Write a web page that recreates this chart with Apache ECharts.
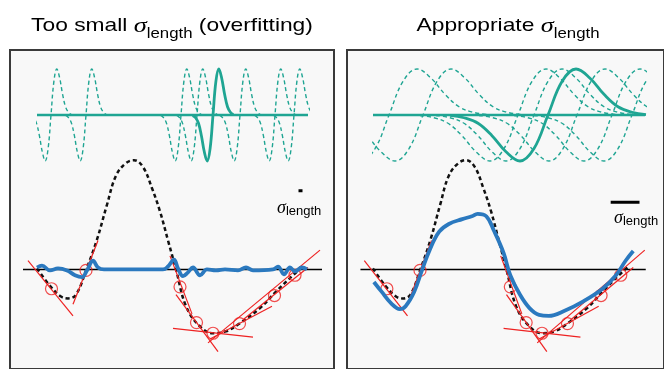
<!DOCTYPE html>
<html><head><meta charset="utf-8">
<script src="https://cdn.jsdelivr.net/npm/echarts/dist/echarts.min.js"></script>
<style>html,body{margin:0;padding:0;background:#fff}#c{width:664px;height:369px}</style>
</head><body><div id="c"></div>
<script>
// ---------------- data ----------------
// true function (black dotted), x along the panel, y relative to the black zero line
const truth = [[27,1],[40,-17],[51,-28],[58,-30],[66,-26],[76,-1],[87,31],[97,67],[106,97],[116,110],[124,113],[133,106],[142,84],[150,60],[158,30],[166,0],[176,-38],[189,-58],[203,-66],[216,-64],[228,-57],[250,-40],[266,-23],[283,-6],[293,3]];
// observed samples (red circles)
const samples = [[41.5,-20],[76,-1],[170,-18],[186.5,-55],[203,-66],[229.5,-56],[264.5,-27],[285,-6]];
// tangent segments at the samples [x1,y1,x2,y2]
const tangents = [[18,9,63,-48],[63,-36,88,30],[160,14,182,-46],[166,-26,208,-85],[163,-61,243,-70],[200,-72,262,-38],[233,-52,298,2],[198,-76,310,20]];
// fitted curve, too small length scale
const fitSmall = [[27,2],[32,4],[40,-1],[48,1],[57,-1],[65,-6],[72,-8],[77,-1],[83,9],[88,2],[94,0],[153,0],[158,3],[164,10],[168,1],[173,-7],[178,-3],[183,2],[190,-6],[197,0],[206,-1],[215,0],[228,-1],[236,2],[243,-1],[263,0],[268,3],[274,-5],[280,2],[285,-2],[292,2],[297,0]];
// fitted curve, appropriate length scale
const fitGood = [[28,-13],[36,-23],[46,-35],[55,-41],[61,-38],[70,-23],[78,-1],[86,20],[96,39],[106,47],[120,52],[130,55],[136,57.5],[145,55],[153,40],[163,17],[170,-6],[180,-26],[190,-40],[200,-47],[210,-48],[226,-43],[246,-33],[266,-20],[280,-6],[290,9],[298,19]];
// basis wavelet shape (derivative-of-Gaussian look): offsets in widths, heights in amplitudes
const waveU = [-3.5,-3,-2.5,-2,-1.5,-1,-0.5,0,0.5,1,1.5,2,2.5,3,3.5];
const waveV = [-0.01,-0.06,-0.18,-0.45,-0.8,-1,-0.73,0,0.73,1,0.8,0.45,0.18,0.06,0.01];
const waveAmp = 46;
const centersSmall = [41,76,171,187,203,230,265,284];
const widthSmall = 5.8;
const centersGood = [42,76,171,187,201,230,265,285];
const widthGood = 28;
const solidIndex = 4;
// sigma scale bars [x1,x2,y]
const barSmall = [288.5,292.5,81.5];
const barGood = [274.5,304.5,69.5];

// ---------------- colours ----------------
const TEAL = '#1fa593', BLUE = '#2b79bf', RED = '#ee2222';

const chart = echarts.init(document.getElementById('c'), null, {renderer:'canvas'});
const axX = (g, min, max) => ({type:'value', gridIndex:g, min, max, show:false});
const axY = (g, min, max) => ({type:'value', gridIndex:g, min, max, show:false});

function waveData(c, w){ return waveU.map((u,i)=>[c+u*w, waveV[i]*waveAmp]); }

const series = [];
function panelSeries(ax, fit, bar, base){
  series.push({type:'line', xAxisIndex:ax, yAxisIndex:ax, data:base, showSymbol:false, lineStyle:{color:'#000', width:1.5}, z:2, silent:true});
  series.push({type:'line', xAxisIndex:ax, yAxisIndex:ax, data:truth, smooth:0.4, showSymbol:false, lineStyle:{color:'#111', width:2.5, type:[4,3]}, z:3, silent:true});
  tangents.forEach(t=>series.push({type:'line', xAxisIndex:ax, yAxisIndex:ax, data:[[t[0],t[1]],[t[2],t[3]]], showSymbol:false, lineStyle:{color:RED, width:1.2}, z:4, silent:true}));
  series.push({type:'scatter', xAxisIndex:ax, yAxisIndex:ax, data:samples, symbol:'circle', symbolSize:12, itemStyle:{color:'rgba(0,0,0,0)', borderColor:RED, borderWidth:1.2}, z:5, silent:true});
  series.push({type:'line', xAxisIndex:ax, yAxisIndex:ax, data:fit, smooth:0.4, showSymbol:false, lineStyle:{color:BLUE, width:3.8}, z:6, silent:true});
  series.push({type:'line', xAxisIndex:ax, yAxisIndex:ax, data:[[bar[0],bar[2]],[bar[1],bar[2]]], showSymbol:false, lineStyle:{color:'#000', width:3, cap:'butt'}, z:6, silent:true});
}
function waveSeries(ax, centers, w, range){
  series.push({type:'line', xAxisIndex:ax, yAxisIndex:ax, data:[[range[0],0],[range[1],0]], showSymbol:false, lineStyle:{color:TEAL, width:2.5}, z:3, silent:true});
  centers.forEach((c,i)=>{
    const solid = i===solidIndex;
    series.push({type:'line', xAxisIndex:ax, yAxisIndex:ax, data:waveData(c,w), smooth:0.4, showSymbol:false, clip:true,
      lineStyle:{color:TEAL, width: solid?2.8:1.4, type: solid?'solid':[4,3]}, z: solid?5:4, silent:true});
  });
}
panelSeries(0, fitSmall, barSmall, [[13,0],[312,0]]);
panelSeries(1, fitGood, barGood, [[14,0],[311,0]]);
waveSeries(2, centersSmall, widthSmall, [27,298]);
waveSeries(3, centersGood, widthGood, [26,298]);

const titleRich = {
  t:{fontSize:19, fontFamily:'Liberation Sans', color:'#111', lineHeight:30},
  s:{fontSize:22, fontFamily:'Liberation Serif', fontStyle:'italic', color:'#111', lineHeight:30},
  sub:{fontSize:14, fontFamily:'Liberation Sans', color:'#111', lineHeight:14, verticalAlign:'bottom'}
};
const lblRich = {
  s:{fontSize:18, fontFamily:'Liberation Serif', fontStyle:'italic', color:'#111', lineHeight:20},
  sub:{fontSize:13, fontFamily:'Liberation Sans', color:'#111', lineHeight:13, verticalAlign:'bottom'}
};

chart.setOption({
  animation:false,
  backgroundColor:'#ffffff',
  grid:[
    {left:10, top:50, width:324, height:330, show:true, backgroundColor:'#f8f8f8', borderColor:'#3a3a3a', borderWidth:2},
    {left:347, top:50, width:330, height:330, show:true, backgroundColor:'#f8f8f8', borderColor:'#3a3a3a', borderWidth:2},
    {left:37, top:55, width:271, height:120},
    {left:373, top:55, width:272, height:120}
  ],
  xAxis:[axX(0,0,324), axX(1,0,330), axX(2,27,298), axX(3,26,298)],
  yAxis:[axY(0,-103,227), axY(1,-103,227), axY(2,-60,60), axY(3,-60,60)],
  series,
  graphic:[
    {type:'text', x:172, y:26, scaleX:1.2, style:{text:'{t|Too small }{s|σ}{sub|length}{t| (overfitting)}', rich:titleRich, align:'center', verticalAlign:'middle'}},
    {type:'text', x:508, y:26, scaleX:1.2, style:{text:'{t|Appropriate }{s|σ}{sub|length}', rich:titleRich, align:'center', verticalAlign:'middle'}},
    {type:'text', x:277, y:208, z:10, style:{text:'{s|σ}{sub|length}', rich:lblRich, align:'left', verticalAlign:'middle'}},
    {type:'text', x:614, y:218, z:10, style:{text:'{s|σ}{sub|length}', rich:lblRich, align:'left', verticalAlign:'middle'}}
  ]
});
</script></body></html>
